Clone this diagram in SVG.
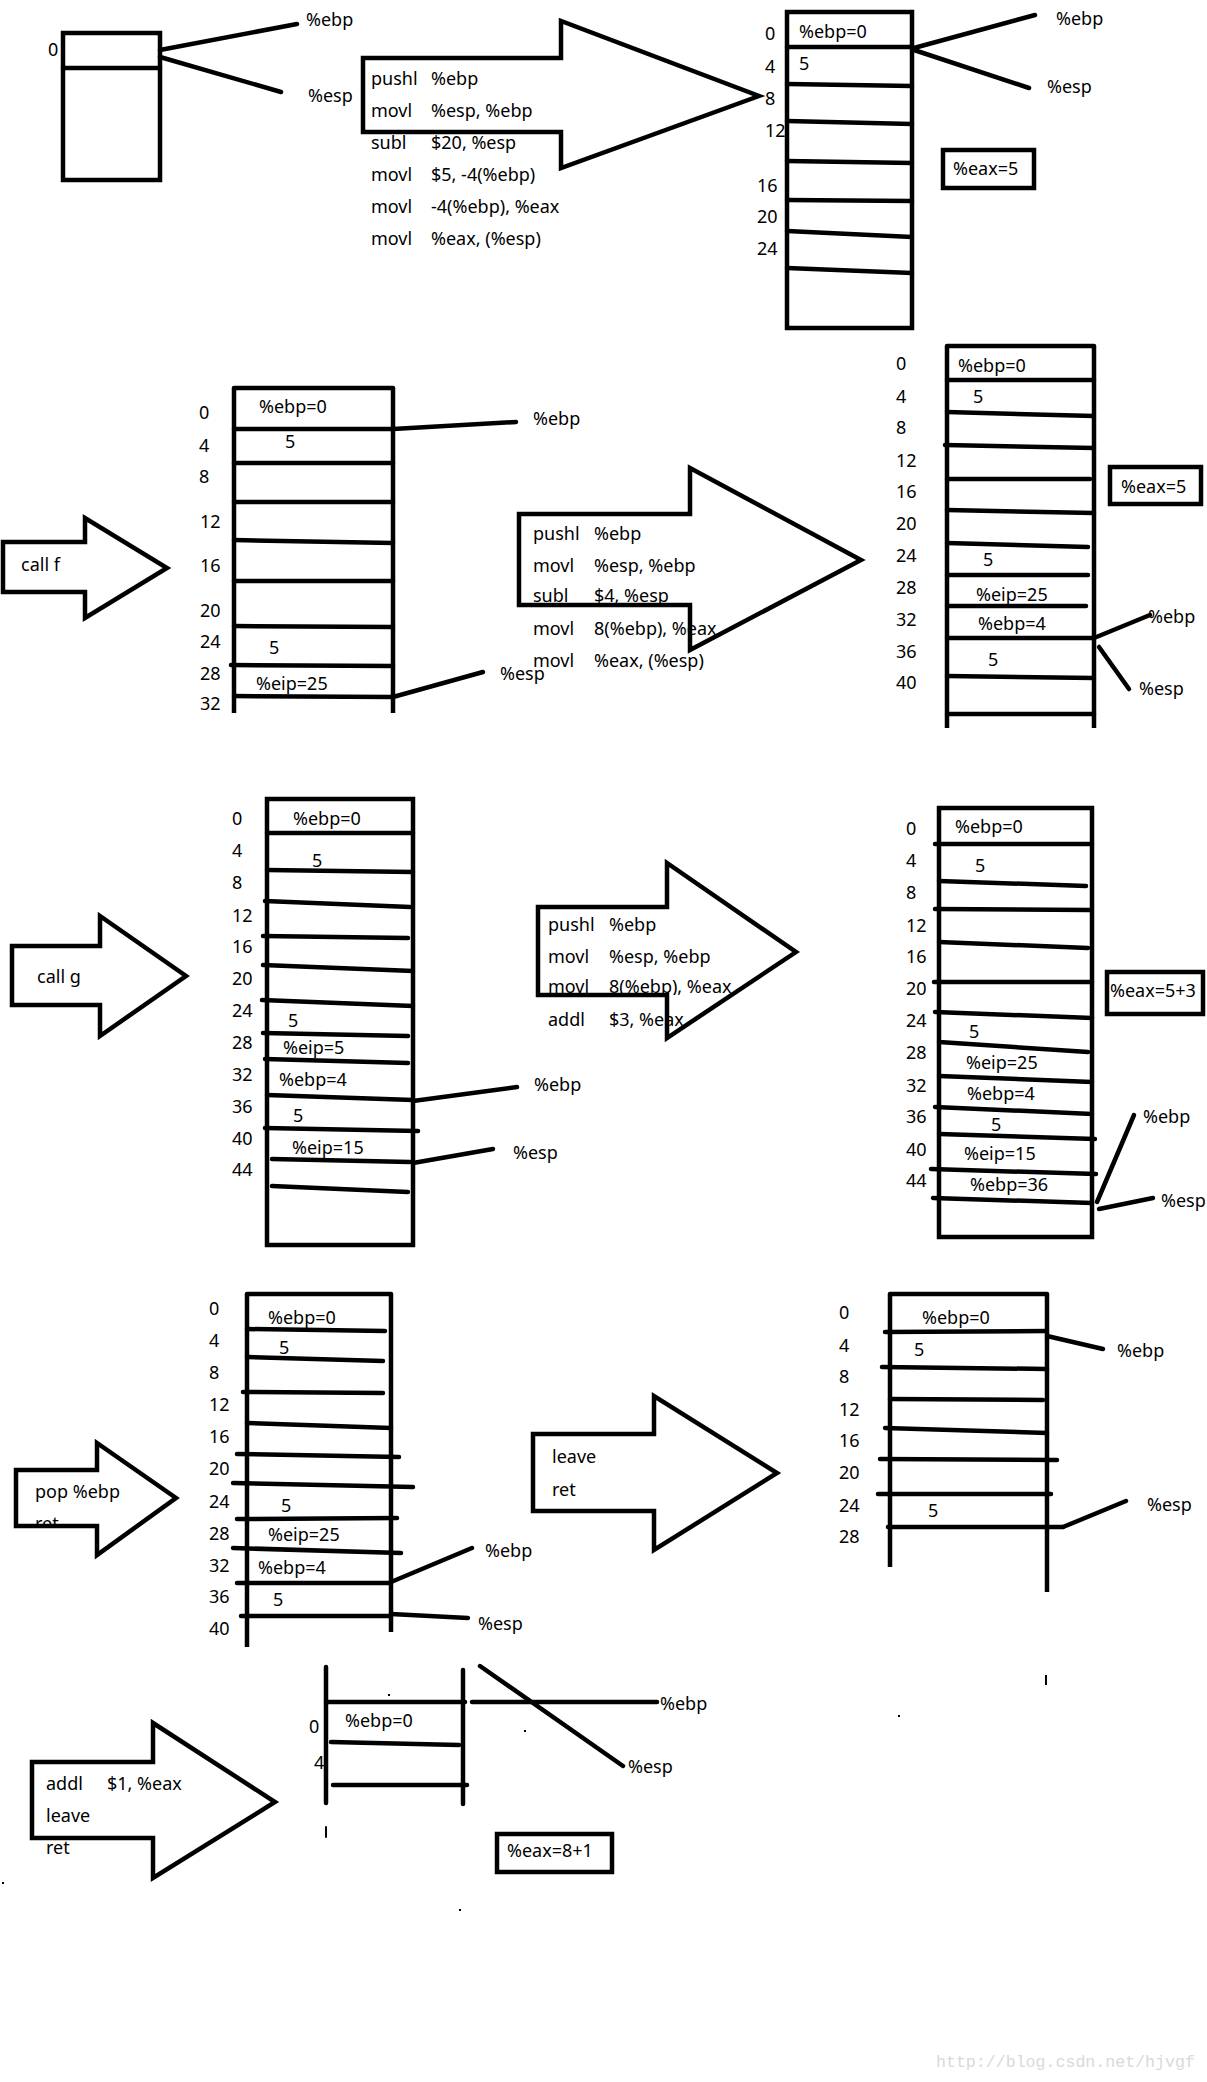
<svg xmlns="http://www.w3.org/2000/svg" width="1207" height="2082" viewBox="0 0 1207 2082">
<style>
.bg{fill:#ffffff}
.box{fill:none;stroke:#000;stroke-width:4.5}
.ln{stroke:#000;stroke-width:4.5;stroke-linecap:round;fill:none}
.ptr{stroke:#000;stroke-width:4.5;stroke-linecap:round;fill:none}
.arr{fill:none;stroke:#000;stroke-width:4.5;stroke-linejoin:miter}
text{font-family:"Noto Sans","Open Sans","DejaVu Sans",sans-serif;font-size:18px;fill:#000}
.wm{font-family:"Liberation Mono","DejaVu Sans Mono",monospace;font-size:16.6px;fill:#d9d9d9}
.dot{fill:#000}
</style>
<defs>
<clipPath id="cSubl"><rect x="500" y="570" width="300" height="35"/></clipPath>
<clipPath id="cMovl3"><rect x="530" y="970" width="300" height="25"/></clipPath>
<clipPath id="cRet"><rect x="20" y="1505" width="100" height="21"/></clipPath>
<clipPath id="c32"><rect x="180" y="690" width="60" height="23"/></clipPath>
</defs>
<rect class="bg" x="0" y="0" width="1207" height="2082"/>

<!-- Section 1 -->
<g id="stack-initial">
<rect class="box" x="63" y="33" width="97" height="147"/>
<line class="ln" x1="63" y1="68" x2="160" y2="68"/>
<text x="48" y="56">0</text>
</g>

<g id="arrow-1">
<polygon class="arr" points="363,58 561,58 561,21 759,96 561,168 561,132 363,132"/>
<text x="371" y="85">pushl</text><text x="431" y="85">%ebp</text>
<text x="371" y="117">movl</text><text x="431" y="117">%esp, %ebp</text>
<text x="371" y="149">subl</text><text x="431" y="149">$20, %esp</text>
<text x="371" y="181">movl</text><text x="431" y="181">$5, -4(%ebp)</text>
<text x="371" y="213">movl</text><text x="431" y="213">-4(%ebp), %eax</text>
<text x="371" y="245">movl</text><text x="431" y="245">%eax, (%esp)</text>
</g>

<g id="stack-1">
<rect class="box" x="787" y="12" width="125" height="316"/>
<line class="ln" x1="787" y1="47" x2="912" y2="47"/>
<line class="ln" x1="787" y1="84" x2="912" y2="86"/>
<line class="ln" x1="787" y1="121" x2="912" y2="124"/>
<line class="ln" x1="787" y1="161" x2="912" y2="163"/>
<line class="ln" x1="787" y1="200" x2="912" y2="201"/>
<line class="ln" x1="787" y1="231" x2="912" y2="237"/>
<line class="ln" x1="787" y1="268" x2="912" y2="273"/>
<text x="765" y="40">0</text>
<text x="765" y="73">4</text>
<text x="765" y="105">8</text>
<text x="765" y="137">12</text>
<text x="757" y="192">16</text>
<text x="757" y="223">20</text>
<text x="757" y="255">24</text>
<text x="799" y="38">%ebp=0</text>
<text x="799" y="70">5</text>
</g>

<g id="eax-1">
<rect class="box" x="943" y="150" width="91" height="38"/>
<text x="953" y="175">%eax=5</text>
</g>

<!-- Section 2 -->
<g id="arrow-call-f">
<polygon class="arr" points="3,542 85,542 85,518 167,568 85,618 85,592 3,592"/>
<text x="21" y="571">call f</text>
</g>

<g id="stack-2">
<line class="ln" x1="234" y1="388" x2="393" y2="388"/>
<line class="ln" x1="234" y1="388" x2="234" y2="713" style="stroke-linecap:butt"/>
<line class="ln" x1="393" y1="388" x2="393" y2="713" style="stroke-linecap:butt"/>
<line class="ln" x1="234" y1="429" x2="393" y2="429"/>
<line class="ln" x1="234" y1="463" x2="393" y2="463"/>
<line class="ln" x1="234" y1="502" x2="393" y2="502"/>
<line class="ln" x1="234" y1="540" x2="393" y2="543"/>
<line class="ln" x1="234" y1="581" x2="393" y2="581"/>
<line class="ln" x1="234" y1="626" x2="393" y2="627"/>
<line class="ln" x1="231" y1="665" x2="393" y2="666"/>
<line class="ln" x1="234" y1="696" x2="393" y2="697"/>
<text x="199" y="419">0</text>
<text x="199" y="452">4</text>
<text x="199" y="483">8</text>
<text x="200" y="528">12</text>
<text x="200" y="572">16</text>
<text x="200" y="617">20</text>
<text x="200" y="648">24</text>
<text x="200" y="680">28</text>
<text x="200" y="710" clip-path="url(#c32)">32</text>
<text x="259" y="413">%ebp=0</text>
<text x="285" y="448">5</text>
<text x="269" y="654">5</text>
<text x="256" y="690">%eip=25</text>
</g>

<g id="arrow-2">
<text x="533" y="540">pushl</text><text x="594" y="540">%ebp</text>
<text x="533" y="572">movl</text><text x="594" y="572">%esp, %ebp</text>
<g clip-path="url(#cSubl)"><text x="533" y="602">subl</text><text x="594" y="602">$4, %esp</text></g>
<text x="533" y="635">movl</text><text x="594" y="635">8(%ebp), %eax</text>
<text x="533" y="667">movl</text><text x="594" y="667">%eax, (%esp)</text>
<polygon class="arr" points="519,514 690,514 690,468 861,560 690,650 690,605 519,605"/>
</g>

<g id="stack-3">
<line class="ln" x1="947" y1="346" x2="1094" y2="346"/>
<line class="ln" x1="947" y1="346" x2="947" y2="728" style="stroke-linecap:butt"/>
<line class="ln" x1="1094" y1="346" x2="1094" y2="728" style="stroke-linecap:butt"/>
<line class="ln" x1="947" y1="380" x2="1094" y2="380"/>
<line class="ln" x1="947" y1="412" x2="1094" y2="416"/>
<line class="ln" x1="945" y1="445" x2="1094" y2="448"/>
<line class="ln" x1="947" y1="479" x2="1090" y2="479"/>
<line class="ln" x1="947" y1="510" x2="1094" y2="513"/>
<line class="ln" x1="947" y1="543" x2="1088" y2="547"/>
<line class="ln" x1="947" y1="575" x2="1088" y2="575"/>
<line class="ln" x1="947" y1="606" x2="1086" y2="606"/>
<line class="ln" x1="947" y1="638" x2="1094" y2="638"/>
<line class="ln" x1="947" y1="676" x2="1094" y2="678"/>
<line class="ln" x1="947" y1="714" x2="1094" y2="714"/>
<text x="896" y="370">0</text>
<text x="896" y="403">4</text>
<text x="896" y="434">8</text>
<text x="896" y="467">12</text>
<text x="896" y="498">16</text>
<text x="896" y="530">20</text>
<text x="896" y="562">24</text>
<text x="896" y="594">28</text>
<text x="896" y="626">32</text>
<text x="896" y="658">36</text>
<text x="896" y="689">40</text>
<text x="958" y="372">%ebp=0</text>
<text x="973" y="403">5</text>
<text x="983" y="566">5</text>
<text x="976" y="601">%eip=25</text>
<text x="978" y="630">%ebp=4</text>
<text x="988" y="666">5</text>
</g>

<g id="eax-2">
<rect class="box" x="1110" y="467" width="91" height="37"/>
<text x="1121" y="493">%eax=5</text>
</g>

<!-- Section 3 -->
<g id="arrow-call-g">
<polygon class="arr" points="12,946 100,946 100,916 186,976 100,1036 100,1005 12,1005"/>
<text x="37" y="983">call g</text>
</g>

<g id="stack-4">
<rect class="box" x="267" y="799" width="146" height="446"/>
<line class="ln" x1="267" y1="833" x2="413" y2="833"/>
<line class="ln" x1="267" y1="870" x2="413" y2="872"/>
<line class="ln" x1="265" y1="901" x2="410" y2="907"/>
<line class="ln" x1="263" y1="936" x2="408" y2="938"/>
<line class="ln" x1="263" y1="965" x2="413" y2="971"/>
<line class="ln" x1="262" y1="1000" x2="413" y2="1006"/>
<line class="ln" x1="263" y1="1033" x2="408" y2="1036"/>
<line class="ln" x1="265" y1="1059" x2="408" y2="1063"/>
<line class="ln" x1="267" y1="1095" x2="413" y2="1100"/>
<line class="ln" x1="265" y1="1128" x2="418" y2="1131"/>
<line class="ln" x1="272" y1="1159" x2="410" y2="1162"/>
<line class="ln" x1="272" y1="1186" x2="408" y2="1192"/>
<text x="232" y="825">0</text>
<text x="232" y="857">4</text>
<text x="232" y="889">8</text>
<text x="232" y="922">12</text>
<text x="232" y="953">16</text>
<text x="232" y="985">20</text>
<text x="232" y="1017">24</text>
<text x="232" y="1049">28</text>
<text x="232" y="1081">32</text>
<text x="232" y="1113">36</text>
<text x="232" y="1145">40</text>
<text x="232" y="1176">44</text>
<text x="293" y="825">%ebp=0</text>
<text x="312" y="867">5</text>
<text x="288" y="1027">5</text>
<text x="283" y="1054">%eip=5</text>
<text x="279" y="1086">%ebp=4</text>
<text x="293" y="1122">5</text>
<text x="292" y="1154">%eip=15</text>
</g>

<g id="arrow-3">
<text x="548" y="931">pushl</text><text x="609" y="931">%ebp</text>
<text x="548" y="963">movl</text><text x="609" y="963">%esp, %ebp</text>
<g clip-path="url(#cMovl3)"><text x="548" y="993">movl</text><text x="609" y="993">8(%ebp), %eax</text></g>
<text x="548" y="1026">addl</text><text x="609" y="1026">$3, %eax</text>
<polygon class="arr" points="538,907 667,907 667,863 796,952 667,1038 667,995 538,995"/>
</g>

<g id="stack-5">
<rect class="box" x="939" y="808" width="153" height="429"/>
<line class="ln" x1="935" y1="844" x2="1092" y2="844"/>
<line class="ln" x1="939" y1="881" x2="1086" y2="886"/>
<line class="ln" x1="935" y1="909" x2="1090" y2="910"/>
<line class="ln" x1="939" y1="942" x2="1088" y2="948"/>
<line class="ln" x1="934" y1="982" x2="1092" y2="982"/>
<line class="ln" x1="935" y1="1012" x2="1092" y2="1018"/>
<line class="ln" x1="939" y1="1042" x2="1088" y2="1052"/>
<line class="ln" x1="939" y1="1076" x2="1092" y2="1082"/>
<line class="ln" x1="935" y1="1107" x2="1092" y2="1114"/>
<line class="ln" x1="939" y1="1134" x2="1095" y2="1139"/>
<line class="ln" x1="931" y1="1169" x2="1096" y2="1174"/>
<line class="ln" x1="933" y1="1198" x2="1092" y2="1203"/>
<text x="906" y="835">0</text>
<text x="906" y="867">4</text>
<text x="906" y="899">8</text>
<text x="906" y="932">12</text>
<text x="906" y="963">16</text>
<text x="906" y="995">20</text>
<text x="906" y="1027">24</text>
<text x="906" y="1059">28</text>
<text x="906" y="1092">32</text>
<text x="906" y="1123">36</text>
<text x="906" y="1156">40</text>
<text x="906" y="1187">44</text>
<text x="955" y="833">%ebp=0</text>
<text x="975" y="872">5</text>
<text x="969" y="1038">5</text>
<text x="966" y="1069">%eip=25</text>
<text x="967" y="1100">%ebp=4</text>
<text x="991" y="1131">5</text>
<text x="964" y="1160">%eip=15</text>
<text x="970" y="1191">%ebp=36</text>
</g>

<g id="eax-3">
<text x="1110" y="997">%eax=5+3</text>
<rect class="box" x="1107" y="972" width="96" height="42"/>
</g>

<!-- Section 4 -->
<g id="arrow-pop">
<text x="35" y="1498">pop %ebp</text>
<text x="35" y="1530" clip-path="url(#cRet)">ret</text>
<polygon class="arr" points="16,1470 97,1470 97,1443 176,1498 97,1555 97,1526 16,1526"/>
</g>

<g id="stack-6">
<line class="ln" x1="247" y1="1294" x2="391" y2="1294"/>
<line class="ln" x1="247" y1="1294" x2="247" y2="1647" style="stroke-linecap:butt"/>
<line class="ln" x1="391" y1="1294" x2="391" y2="1632" style="stroke-linecap:butt"/>
<line class="ln" x1="247" y1="1329" x2="385" y2="1331"/>
<line class="ln" x1="247" y1="1357" x2="383" y2="1361"/>
<line class="ln" x1="243" y1="1392" x2="383" y2="1393"/>
<line class="ln" x1="247" y1="1423" x2="391" y2="1428"/>
<line class="ln" x1="237" y1="1454" x2="399" y2="1457"/>
<line class="ln" x1="233" y1="1483" x2="413" y2="1487"/>
<line class="ln" x1="237" y1="1519" x2="397" y2="1518"/>
<line class="ln" x1="233" y1="1548" x2="401" y2="1553"/>
<line class="ln" x1="237" y1="1583" x2="391" y2="1583"/>
<line class="ln" x1="241" y1="1616" x2="391" y2="1616"/>
<text x="209" y="1315">0</text>
<text x="209" y="1347">4</text>
<text x="209" y="1379">8</text>
<text x="209" y="1411">12</text>
<text x="209" y="1443">16</text>
<text x="209" y="1475">20</text>
<text x="209" y="1508">24</text>
<text x="209" y="1540">28</text>
<text x="209" y="1572">32</text>
<text x="209" y="1603">36</text>
<text x="209" y="1635">40</text>
<text x="268" y="1324">%ebp=0</text>
<text x="279" y="1354">5</text>
<text x="281" y="1512">5</text>
<text x="268" y="1541">%eip=25</text>
<text x="258" y="1574">%ebp=4</text>
<text x="273" y="1606">5</text>
</g>

<g id="arrow-4">
<polygon class="arr" points="533,1434 654,1434 654,1396 777,1473 654,1550 654,1511 533,1511"/>
<text x="552" y="1463">leave</text>
<text x="552" y="1496">ret</text>
</g>

<g id="stack-7">
<line class="ln" x1="890" y1="1294" x2="1047" y2="1294"/>
<line class="ln" x1="890" y1="1294" x2="890" y2="1567" style="stroke-linecap:butt"/>
<line class="ln" x1="1047" y1="1294" x2="1047" y2="1592" style="stroke-linecap:butt"/>
<line class="ln" x1="885" y1="1332" x2="1047" y2="1331"/>
<line class="ln" x1="882" y1="1367" x2="1047" y2="1369"/>
<line class="ln" x1="890" y1="1399" x2="1043" y2="1400"/>
<line class="ln" x1="885" y1="1428" x2="1047" y2="1433"/>
<line class="ln" x1="880" y1="1459" x2="1057" y2="1460"/>
<line class="ln" x1="878" y1="1494" x2="1051" y2="1494"/>
<line class="ln" x1="888" y1="1527" x2="1063" y2="1527"/>
<text x="839" y="1319">0</text>
<text x="839" y="1352">4</text>
<text x="839" y="1383">8</text>
<text x="839" y="1416">12</text>
<text x="839" y="1447">16</text>
<text x="839" y="1479">20</text>
<text x="839" y="1512">24</text>
<text x="839" y="1543">28</text>
<text x="922" y="1324">%ebp=0</text>
<text x="914" y="1356">5</text>
<text x="928" y="1517">5</text>
</g>

<!-- Section 5 -->
<g id="arrow-5">
<polygon class="arr" points="32,1762 153,1762 153,1723 275,1802 153,1878 153,1838 32,1838"/>
<text x="46" y="1790">addl</text><text x="107" y="1790">$1, %eax</text>
<text x="46" y="1822">leave</text>
<text x="46" y="1854">ret</text>
</g>

<g id="stack-8">
<line class="ln" x1="326" y1="1667" x2="326" y2="1803"/>
<line class="ln" x1="326" y1="1827" x2="326" y2="1837" style="stroke-width:2"/>
<line class="ln" x1="463" y1="1670" x2="463" y2="1804"/>
<line class="ln" x1="326" y1="1702" x2="465" y2="1702"/>
<line class="ln" x1="331" y1="1742" x2="459" y2="1745"/>
<line class="ln" x1="333" y1="1785" x2="467" y2="1785"/>
<text x="309" y="1733">0</text>
<text x="314" y="1769">4</text>
<text x="345" y="1727">%ebp=0</text>
</g>

<g id="eax-4">
<rect class="box" x="497" y="1834" width="115" height="38"/>
<text x="507" y="1857">%eax=8+1</text>
</g>

<!-- Connectors: %ebp / %esp pointers -->
<g id="connectors">
<line class="ptr" x1="160" y1="50" x2="297" y2="24"/>
<line class="ptr" x1="160" y1="57" x2="281" y2="92"/>
<text x="306" y="26">%ebp</text>
<text x="308" y="102">%esp</text>

<line class="ptr" x1="914" y1="48" x2="1035" y2="15"/>
<line class="ptr" x1="914" y1="50" x2="1029" y2="88"/>
<text x="1056" y="25">%ebp</text>
<text x="1047" y="93">%esp</text>

<line class="ptr" x1="393" y1="429" x2="516" y2="422"/>
<line class="ptr" x1="393" y1="697" x2="483" y2="672"/>
<text x="533" y="425">%ebp</text>
<text x="500" y="680">%esp</text>

<line class="ptr" x1="1094" y1="638" x2="1150" y2="615"/>
<line class="ptr" x1="1099" y1="647" x2="1129" y2="689"/>
<text x="1148" y="623">%ebp</text>
<text x="1139" y="695">%esp</text>

<line class="ptr" x1="413" y1="1101" x2="517" y2="1087"/>
<line class="ptr" x1="413" y1="1163" x2="493" y2="1149"/>
<text x="534" y="1091">%ebp</text>
<text x="513" y="1159">%esp</text>

<line class="ptr" x1="1097" y1="1202" x2="1134" y2="1115"/>
<line class="ptr" x1="1099" y1="1209" x2="1153" y2="1198"/>
<text x="1143" y="1123">%ebp</text>
<text x="1161" y="1207">%esp</text>

<line class="ptr" x1="391" y1="1582" x2="472" y2="1548"/>
<line class="ptr" x1="391" y1="1614" x2="468" y2="1618"/>
<text x="485" y="1557">%ebp</text>
<text x="478" y="1630">%esp</text>

<line class="ptr" x1="1047" y1="1336" x2="1103" y2="1349"/>
<line class="ptr" x1="1063" y1="1527" x2="1126" y2="1501"/>
<text x="1117" y="1357">%ebp</text>
<text x="1147" y="1511">%esp</text>

<line class="ptr" x1="472" y1="1702" x2="657" y2="1702"/>
<line class="ptr" x1="480" y1="1666" x2="623" y2="1766"/>
<text x="660" y="1710">%ebp</text>
<text x="628" y="1773">%esp</text>
</g>

<g id="specks">
<rect class="dot" x="388" y="1694" width="2" height="2"/>
<rect class="dot" x="524" y="1730" width="2" height="2"/>
<rect class="dot" x="459" y="1909" width="2" height="2"/>
<rect class="dot" x="2" y="1882" width="2" height="2"/>
<rect class="dot" x="898" y="1715" width="2" height="2"/>
<rect class="dot" x="1045" y="1675" width="2" height="10"/>
</g>

<text class="wm" x="936" y="2067">http://blog.csdn.net/hjvgf</text>
</svg>
